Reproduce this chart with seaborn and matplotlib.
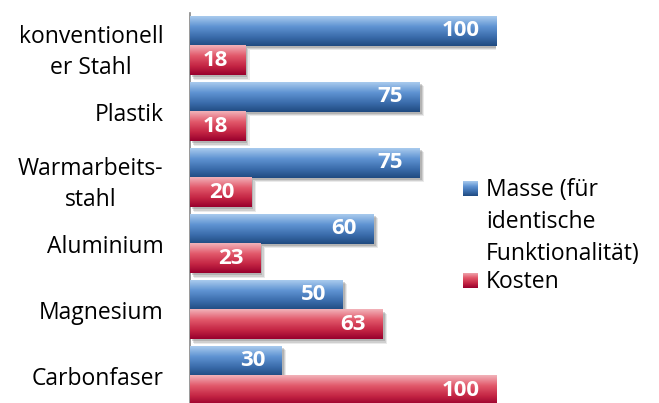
import numpy as np
import pandas as pd
import seaborn as sns
import matplotlib
matplotlib.use("Agg")
import matplotlib.pyplot as plt
import matplotlib.patheffects as pe
from matplotlib.colors import LinearSegmentedColormap

categories = ["konventionell\ner Stahl", "Plastik", "Warmarbeits-\nstahl",
              "Aluminium", "Magnesium", "Carbonfaser"]
masse = [100, 75, 75, 60, 50, 30]
kosten = [18, 18, 20, 23, 63, 100]
series = ["Masse (für\nidentische\nFunktionalität)", "Kosten"]

sns.set_style("white")
plt.rcParams['font.family'] = ['Open Sans', 'DejaVu Sans']
FS = 16.5

df = pd.DataFrame({
    "Material": categories * 2,
    "Wert": masse + kosten,
    "Serie": [series[0]] * len(categories) + [series[1]] * len(categories),
})

blue_cm = LinearSegmentedColormap.from_list(
    "b", [(0, "#a9cbee"), (0.35, "#5f93d2"), (0.7, "#3a6cab"), (1, "#1f4a80")])
red_cm = LinearSegmentedColormap.from_list(
    "r", [(0, "#f2b3ba"), (0.35, "#e2596b"), (0.7, "#c42544"), (1, "#98002d")])
cmaps = [blue_cm, red_cm]

W, H = 659, 403
fig = plt.figure(figsize=(W / 100, H / 100), dpi=100)
ax = fig.add_axes([190 / W, 1 - 408.5 / H, 306 / W, 396 / H])

sns.barplot(data=df, y="Material", x="Wert", hue="Serie", orient="h",
            palette=["#4f81bd", "#c0304a"], width=0.9, linewidth=0,
            saturation=1, legend=False, ax=ax)

grad = np.linspace(0, 1, 128).reshape(-1, 1)
shadow = [pe.SimplePatchShadow(offset=(3.2, -3.2), shadow_rgbFace="0.55", alpha=0.18),
          pe.SimplePatchShadow(offset=(2.4, -2.4), shadow_rgbFace="0.5", alpha=0.25),
          pe.SimplePatchShadow(offset=(1.5, -1.5), shadow_rgbFace="0.45", alpha=0.3)]
for cont, cm in zip(ax.containers, cmaps):
    for p in cont.patches:
        x0, y0, w, h = p.get_x(), p.get_y(), p.get_width(), p.get_height()
        ax.imshow(grad, extent=(x0, x0 + w, y0 + h, y0), aspect="auto",
                  cmap=cm, origin="upper", zorder=3, interpolation="bilinear")
        p.set_path_effects(shadow)
    texts = ax.bar_label(cont, labels=[f"{v:.0f}" for v in cont.datavalues],
                         padding=-12, color="white", fontsize=16,
                         fontweight="bold", zorder=6)
    for t in texts:
        t.set_horizontalalignment("right")

ax.set_xlim(0, 100)
ax.set_ylim(len(categories) - 0.5, -0.5)
ax.set_xlabel("")
ax.set_ylabel("")
ax.set_xticks([])
ax.set_yticks(range(len(categories)))
ax.set_yticklabels(categories, fontsize=FS, color="black",
                   multialignment="center", linespacing=1.4)
ax.tick_params(axis="y", length=0, pad=19)
for s in ["top", "right", "bottom"]:
    ax.spines[s].set_visible(False)
ax.spines["left"].set_color("#868686")
ax.spines["left"].set_linewidth(1.2)
ax.set_facecolor("none")

# legend
def legend_square(x, y, cm):
    lax = fig.add_axes([x / W, 1 - (y + 15) / H, 15 / W, 15 / H])
    lax.imshow(grad, aspect="auto", cmap=cm, origin="upper",
               interpolation="bilinear")
    lax.set_axis_off()

legend_square(463, 181, blue_cm)
legend_square(463, 273, red_cm)
lines = series[0].split("\n")
for i, ln in enumerate(lines):
    fig.text(486 / W, 1 - (196 + 32 * i) / H, ln, fontsize=FS,
             va="baseline", ha="left", color="black")
fig.text(486 / W, 1 - 288 / H, series[1], fontsize=FS,
         va="baseline", ha="left", color="black")

fig.savefig("out.png", dpi=100)
